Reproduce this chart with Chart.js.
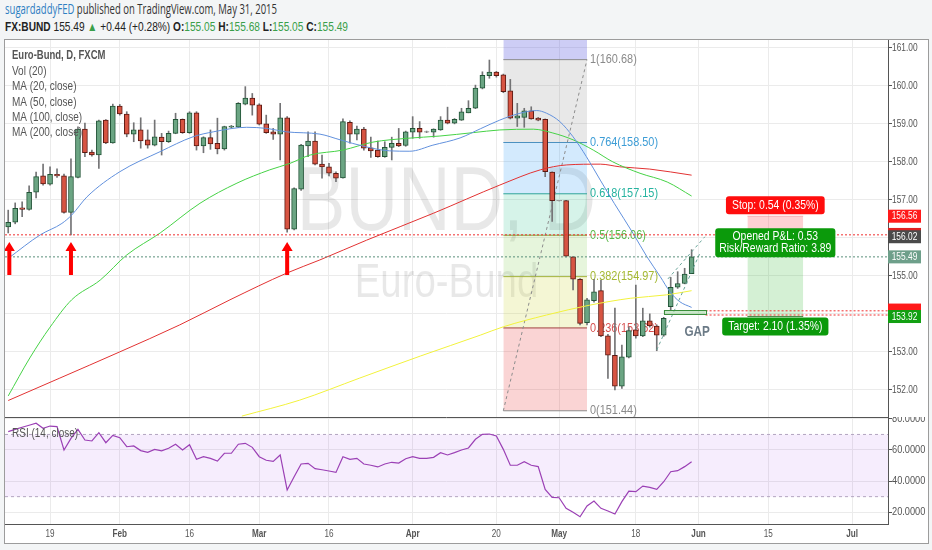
<!DOCTYPE html>
<html>
<head>
<meta charset="utf-8">
<title>Euro-Bund, D, FXCM</title>
<script src="https://cdn.jsdelivr.net/npm/chart.js@4.4.1/dist/chart.umd.min.js"></script>
<style>
  html, body { margin: 0; padding: 0; }
  body { width: 932px; height: 550px; position: relative; overflow: hidden; background: #f3f5f6; font-family: "Liberation Sans", Arial, sans-serif; }
  .hdr { position: absolute; left: 5px; white-space: nowrap; transform-origin: 0 0; }
  #hdr1 { top: 2px; font: 14px/14px "Open Sans", sans-serif; color: #333; }
  #hdr1 .user { color: #2e7fc2; }
  #hdr2 { top: 21px; font: 12.5px/12.5px "Liberation Sans", Arial, sans-serif; color: #222; }
  #hdr2 .g { color: #3a9f4a; }
  #panel { position: absolute; left: 4px; top: 39px; width: 923px; height: 503px; background: #fff; border: 1px solid #9c9c9c; }
  canvas { position: absolute; left: 5px; }
  #main { top: 40px; }
  #rsi { top: 417px; }
</style>
</head>
<body>
<div class="hdr" id="hdr1"><span class="user">sugardaddyFED</span> published on TradingView.com, May 31, 2015</div>
<div class="hdr" id="hdr2"><b>FX:BUND</b> 155.49 <span class="g">&#9650;</span> +0.44 (+0.28%) <b>O:</b><span class="g">155.05</span> <b>H:</b><span class="g">155.68</span> <b>L:</b><span class="g">155.05</span> <b>C:</b><span class="g">155.49</span></div>
<div id="panel"></div>
<canvas id="main" width="923" height="377"></canvas>
<canvas id="rsi" width="923" height="126"></canvas>
<script>
// ---- data (bar index 0 = Jan 9, 2015) ----
const X_TICKS = [6, 16, 26, 36, 46, 58, 70, 79, 90, 99, 109, 121];
const X_LABELS = ['19', 'Feb', '16', 'Mar', '16', 'Apr', '20', 'May', '18', 'Jun', '15', 'Jul'];
const PRICE_TICKS = [152, 153, 154, 155, 156, 157, 158, 159, 160, 161];
const RSI_TICKS = [20, 40, 60, 80];

const OPEN = [156.28,156.40,156.78,156.74,157.19,157.62,157.40,157.66,157.62,156.66,
  157.58,158.85,158.25,158.17,159.09,158.49,159.46,159.25,158.72,158.83,
  158.57,158.43,158.64,158.52,158.74,159.11,158.76,159.28,158.41,158.63,
  158.48,158.33,158.90,158.90,159.51,159.67,159.49,158.99,158.78,158.72,
  159.15,156.22,157.27,158.41,158.54,157.93,157.86,157.69,157.57,159.03,
  158.72,158.85,158.36,158.30,158.13,158.37,158.48,158.42,158.77,158.87,
  158.78,158.77,158.83,159.09,159.01,159.09,159.28,159.40,159.93,160.26,
  160.35,160.28,159.86,159.14,159.16,159.33,159.14,159.11,157.72,156.97,
  156.97,155.49,154.90,153.76,154.34,154.60,153.41,152.90,152.09,152.85,
  153.57,153.41,153.81,153.67,153.43,154.18,154.69,154.79,155.05];
const HIGH = [156.72,156.91,156.94,157.36,157.72,157.93,157.86,157.81,157.67,158.07,
  158.91,159.01,158.30,159.09,159.10,159.51,159.50,159.31,159.02,159.15,
  158.83,159.09,158.74,158.80,159.27,159.12,159.31,159.31,158.65,158.83,
  159.14,158.93,158.95,159.55,159.97,159.79,159.52,159.22,158.87,159.53,
  159.18,157.31,158.45,158.78,158.78,158.17,157.95,157.73,159.12,159.07,
  158.93,158.90,158.64,158.54,158.52,158.64,158.87,158.80,159.18,159.05,
  158.80,158.86,159.18,159.43,159.13,159.40,159.60,160.01,160.36,160.67,
  160.37,160.30,160.16,159.53,159.40,159.44,159.16,159.12,157.73,156.98,
  156.98,155.50,154.92,154.40,154.90,154.88,153.45,154.14,153.17,153.65,
  154.75,154.14,153.99,153.70,153.90,154.95,155.10,155.19,155.68];
const LOW = [156.12,156.36,156.55,156.72,157.04,157.38,157.38,157.58,156.64,156.07,
  157.57,158.13,158.14,157.82,158.47,158.48,159.22,158.65,158.52,158.35,
  158.35,158.41,158.17,158.50,158.73,158.74,158.74,158.30,158.23,158.32,
  158.20,158.30,158.88,158.89,159.49,159.22,158.96,158.74,158.58,158.04,
  156.14,156.20,157.24,158.13,157.91,157.56,157.62,157.47,157.56,158.48,
  158.57,158.30,158.11,158.11,158.11,158.04,158.39,158.40,158.61,158.61,
  158.76,158.64,158.82,158.99,158.99,159.08,159.28,159.39,159.91,160.19,
  160.22,159.81,159.12,158.92,158.90,159.11,159.07,157.60,156.42,156.96,
  155.49,154.62,153.70,153.70,154.30,153.39,152.29,151.99,152.03,152.83,
  153.35,153.39,153.64,153.02,153.40,154.09,154.66,154.78,155.05];
const CLOSE = [156.40,156.77,156.74,157.19,157.60,157.41,157.66,157.62,156.66,157.60,
  158.85,158.23,158.17,159.07,158.49,159.46,159.25,158.72,158.83,158.54,
  158.43,158.65,158.52,158.74,159.11,158.76,159.28,158.41,158.63,158.46,
  158.33,158.92,158.93,159.53,159.67,159.48,158.98,158.76,158.72,159.15,
  156.22,157.29,158.43,158.54,157.93,157.86,157.69,157.56,159.05,158.72,
  158.85,158.35,158.28,158.13,158.37,158.48,158.41,158.78,158.87,158.77,
  158.79,158.85,159.09,159.01,159.11,159.31,159.40,159.93,160.27,160.35,
  160.26,159.84,159.14,159.20,159.33,159.12,159.09,157.73,156.97,156.97,
  155.51,154.90,153.74,154.36,154.57,153.41,152.90,152.09,152.86,153.55,
  153.41,153.81,153.67,153.43,153.87,154.69,154.79,155.04,155.49];

const RSI = [71.8,73.3,74.6,75.9,77.2,74.0,75.4,75.0,60.0,67.5,
  73.3,66.4,65.8,71.1,64.7,69.4,67.9,62.1,62.6,59.6,
  58.5,60.4,59.4,61.1,63.7,60.0,63.4,54.0,55.7,54.6,
  52.9,57.9,57.9,63.7,64.3,61.7,55.7,53.4,52.7,56.8,
  34.3,42.8,51.0,51.4,48.0,47.3,46.5,45.6,55.7,54.0,
  54.6,51.0,50.2,49.1,51.0,52.1,51.6,54.4,55.7,54.6,
  54.6,55.3,58.3,56.8,58.3,60.0,61.3,66.9,70.1,70.3,
  69.0,60.4,50.2,50.2,52.5,50.2,49.3,34.7,29.5,29.3,
  22.5,19.9,17.1,24.0,27.2,22.5,20.8,18.8,26.8,33.6,
  33.2,36.8,36.0,34.7,39.6,46.0,46.7,49.3,52.5];
const RSI_UPPER = 70, RSI_LOWER = 30;

// moving averages, read at selected bars
const MA20_X = [0,4.6,7.7,9.1,11.3,16,21.8,26.5,29.4,34.2,37.1,39.9,44.7,47.6,51.2,54.7,57.6,60.9,64.8,67.7,70.5,73.4,75.8,77.2,79.1,81,82.9,84.9,86.9,89.6,91.6,93.5,94.9,96.3,98];
const MA20_Y = [155.45,156.07,156.37,156.59,157.07,157.73,158.26,158.65,158.78,158.90,158.87,158.78,158.72,158.57,158.39,158.28,158.27,158.43,158.62,158.86,159.09,159.27,159.34,159.27,159.05,158.65,158.13,157.51,156.90,156.11,155.49,154.97,154.57,154.31,154.16];
const MA50_X = [0,3.1,6,9.1,13.2,17,21.8,27.5,32.8,37.5,40.4,43.3,48,52.3,57.2,61.9,66.7,70.5,75.3,78.1,81,83.9,86.7,90.6,94.5,98];
const MA50_Y = [151.83,152.83,153.64,154.36,154.88,155.54,156.12,156.90,157.43,157.78,157.95,158.17,158.30,158.51,158.61,158.67,158.76,158.83,158.85,158.75,158.57,158.30,157.99,157.69,157.46,157.09];
const MA100_X = [0,7.4,16,24.6,31.8,39.9,44.7,51.4,61,70.5,76.3,80.1,84.9,87.7,92,98];
const MA100_Y = [151.71,152.30,152.99,153.70,154.36,155.06,155.41,155.93,156.64,157.38,157.78,157.91,157.93,157.86,157.80,157.64];
const MA200_X = [33.5,41.8,50.4,59.1,67.7,71,77.2,83.4,89.2,94.4,98];
const MA200_Y = [151.30,151.72,152.30,152.88,153.43,153.65,153.96,154.22,154.40,154.49,154.60];

// drawings
const FIB_RATIOS = ['1', '0.764', '0.618', '0.5', '0.382', '0.236', '0'];
const FIB_PRICES = [160.68, 158.50, 157.15, 156.06, 154.97, 153.62, 151.44];
const FIB_FROM = 71, FIB_TO = 83;
const POS_FROM = 106, POS_TO = 114;
const POS_ENTRY = 156.02, POS_STOP = 156.56, POS_TARGET = 153.92;
const ARROW_X = [0.16, 9, 40];
const ARROW_TOP = 155.88, ARROW_BOTTOM = 155.01;
const HLINE_RED = 156.07, HLINE_LAST = 155.49;
const GAP_FROM = 94, GAP_TO = 100, GAP_LOW = 153.98, GAP_HIGH = 154.09;
const GAP_LINES = [154.07, 153.96];
const GAP_TEXT_X = 98.8, GAP_TEXT_Y = 153.51;
const CHANNEL_A_X = [93.0, 99.2], CHANNEL_A_Y = [153.04, 155.59];
const CHANNEL_B_X = [94.6, 99.9], CHANNEL_B_Y = [154.91, 156.02];
const AXIS_MARKS = [156.08, 156.02, 154.09, 153.92, 156.56, 155.49];

// ---- styles ----
const X_MIN = -0.46, X_MAX = 126.16;
const FONT = '"Liberation Sans", Arial, sans-serif';
const FIB_LINE = ['#8c8c8c', '#4a90c0', '#2fa59a', '#7fa83a', '#a4b43c', '#a04040', '#8c8c8c'];
const FIB_TEXT = ['#8a8a8a', '#3d9dd6', '#26b3a0', '#5cb84a', '#a4b832', '#d65050', '#8a8a8a'];
const FIB_BAND = ['rgba(100,100,225,0.32)', 'rgba(128,128,128,0.18)', 'rgba(33,150,243,0.2)',
  'rgba(0,180,120,0.16)', 'rgba(100,190,40,0.16)', 'rgba(200,210,40,0.2)', 'rgba(230,60,60,0.22)'];
const MARK_COLORS = ['#e02020', '#4a4a4a', '#ff1a1a', '#12a012', '#ff1a1a', '#6e9f8a'];
const MARK_SHOW_TEXT = [false, true, false, true, true, true];

Chart.defaults.font.family = FONT;

function sText(ctx, str, x, y, font, color, align, sx, baseline) {
  ctx.save();
  ctx.font = font;
  ctx.fillStyle = color;
  ctx.textBaseline = baseline || 'middle';
  ctx.textAlign = 'left';
  const w = ctx.measureText(str).width * sx;
  const x0 = align === 'center' ? x - w / 2 : align === 'right' ? x - w : x;
  ctx.translate(x0, y);
  ctx.scale(sx, 1);
  ctx.fillText(str, 0, 0);
  ctx.restore();
  return w;
}

function textWidth(ctx, str, font, sx) {
  ctx.save(); ctx.font = font;
  const w = ctx.measureText(str).width * sx;
  ctx.restore();
  return w;
}

function roundBox(ctx, x, y, w, h, r, color) {
  ctx.fillStyle = color;
  ctx.beginPath();
  ctx.moveTo(x + r, y);
  ctx.arcTo(x + w, y, x + w, y + h, r);
  ctx.arcTo(x + w, y + h, x, y + h, r);
  ctx.arcTo(x, y + h, x, y, r);
  ctx.arcTo(x, y, x + w, y, r);
  ctx.closePath();
  ctx.fill();
}

const pts = (xs, ys) => xs.map((v, i) => ({ x: v, y: ys[i] }));
const seg = (x0, x1, v) => [{ x: x0, y: v }, { x: x1, y: v }];

function xScale(h) {
  return {
    type: 'linear', min: X_MIN, max: X_MAX, offset: false,
    afterBuildTicks: s => { s.ticks = X_TICKS.map(v => ({ value: v })); },
    ticks: { display: false },
    grid: { color: '#ebebeb', drawTicks: false, offset: false },
    border: h ? { color: '#555', width: 1 } : { display: false },
    afterFit: s => { s.height = h; s.paddingLeft = 0; s.paddingRight = 0; }
  };
}

function yScale(min, max, ticks) {
  return {
    type: 'linear', position: 'right', min, max,
    afterBuildTicks: s => { s.ticks = ticks.map(v => ({ value: v })); },
    ticks: { display: false },
    grid: { color: '#ebebeb', tickLength: 4, tickColor: '#555' },
    border: { color: '#555', width: 1 },
    afterFit: s => { s.width = 40; s.paddingTop = 0; s.paddingBottom = 0; }
  };
}

// ---- main price panel ----
const isDoji = i => Math.abs(CLOSE[i] - OPEN[i]) < 0.015;
const bodies = OPEN.map((o, i) => ({ x: i, y: isDoji(i) ? [o - 0.008, o + 0.008] : [o, CLOSE[i]] }));
const wicks = LOW.map((l, i) => ({ x: i, y: [l, HIGH[i]] }));
const bodyFill = OPEN.map((o, i) => isDoji(i) ? '#a0a0a0' : CLOSE[i] > o ? '#6ba583' : '#d75442');
const bodyLine = OPEN.map((o, i) => isDoji(i) ? '#8c8c8c' : CLOSE[i] > o ? '#225437' : '#5b1a13');

const lineBase = { type: 'line', pointRadius: 0, borderWidth: 1, fill: false };
const mainDatasets = [];
FIB_PRICES.forEach((p, k) => mainDatasets.push(Object.assign({}, lineBase, {
  data: seg(FIB_FROM, FIB_TO, p), borderColor: FIB_LINE[k],
  fill: k === 0 ? 'end' : '-1', backgroundColor: FIB_BAND[k], order: 9
})));
mainDatasets.push(Object.assign({}, lineBase, { data: seg(POS_FROM, POS_TO, POS_ENTRY), borderColor: 'rgba(0,0,0,0)', borderWidth: 0, order: 9 }));
mainDatasets.push(Object.assign({}, lineBase, { data: seg(POS_FROM, POS_TO, POS_STOP), borderColor: 'rgba(230,80,90,0.35)', fill: '-1', backgroundColor: 'rgba(250,90,100,0.28)', order: 9 }));
mainDatasets.push(Object.assign({}, lineBase, { data: seg(POS_FROM, POS_TO, POS_TARGET), borderColor: '#4a8a4a', fill: '-2', backgroundColor: 'rgba(40,180,40,0.2)', order: 9 }));
mainDatasets.push(Object.assign({}, lineBase, { data: pts([FIB_FROM, FIB_TO], [FIB_PRICES[6], FIB_PRICES[0]]), borderColor: '#8c8c8c', borderDash: [3, 3], order: 8 }));
mainDatasets.push({ type: 'bar', data: wicks, backgroundColor: '#737375', barThickness: 1, grouped: false, order: 3 });
mainDatasets.push({ type: 'bar', data: bodies, backgroundColor: bodyFill, borderColor: bodyLine, borderWidth: 1, borderSkipped: false, barThickness: 5, grouped: false, order: 2 });
[[MA20_X, MA20_Y, '#6291dd'], [MA50_X, MA50_Y, '#46d246'], [MA100_X, MA100_Y, '#e23232'], [MA200_X, MA200_Y, '#f2f23c']].forEach(([xs, ys, c]) =>
  mainDatasets.push(Object.assign({}, lineBase, { data: pts(xs, ys), borderColor: c, cubicInterpolationMode: 'monotone', order: 1 })));
mainDatasets.push(Object.assign({}, lineBase, { data: seg(X_MIN, X_MAX, HLINE_RED), borderColor: '#f03030', borderDash: [2, 2], order: 0 }));
mainDatasets.push(Object.assign({}, lineBase, { data: seg(X_MIN, X_MAX, HLINE_LAST), borderColor: '#5a8f7b', borderDash: [2, 2], order: 0 }));
GAP_LINES.forEach(v => mainDatasets.push(Object.assign({}, lineBase, { data: seg(GAP_TO, X_MAX, v), borderColor: '#f03030', borderDash: [2, 2], order: 0 })));
mainDatasets.push(Object.assign({}, lineBase, { data: pts(CHANNEL_A_X, CHANNEL_A_Y), borderColor: '#6aa59a', borderDash: [3, 3], order: 0 }));
mainDatasets.push(Object.assign({}, lineBase, { data: pts(CHANNEL_B_X, CHANNEL_B_Y), borderColor: '#6aa59a', borderDash: [3, 3], order: 0 }));

const mainDecor = {
  id: 'mainDecor',
  beforeDatasetsDraw(chart) {
    const { ctx, chartArea: a, scales: { x, y } } = chart;
    ctx.save();
    ctx.beginPath(); ctx.rect(a.left, a.top, a.right - a.left, a.bottom - a.top); ctx.clip();
    const cx = (a.left + a.right) / 2;
    sText(ctx, 'BUND, D', cx, a.top + 190, '91px ' + FONT, 'rgba(0,0,0,0.09)', 'center', 0.8, 'alphabetic');
    sText(ctx, 'Euro-Bund', cx, a.top + 257, '48px ' + FONT, 'rgba(0,0,0,0.09)', 'center', 0.8, 'alphabetic');
    FIB_PRICES.forEach((p, k) => sText(ctx, FIB_RATIOS[k] + '(' + p.toFixed(2) + ')',
      x.getPixelForValue(FIB_TO) + 3, y.getPixelForValue(p), '13px ' + FONT, FIB_TEXT[k], 'left', 0.84));
    ctx.restore();
  },
  afterDatasetsDraw(chart) {
    const { ctx, chartArea: a, scales: { x, y } } = chart;
    ctx.save();
    ctx.beginPath(); ctx.rect(a.left, a.top, a.right - a.left, a.bottom - a.top); ctx.clip();
    // red arrows
    ctx.fillStyle = '#ff0000';
    ARROW_X.forEach(v => {
      const px = x.getPixelForValue(v), t = y.getPixelForValue(ARROW_TOP), b = y.getPixelForValue(ARROW_BOTTOM);
      ctx.beginPath();
      ctx.moveTo(px, t); ctx.lineTo(px + 5.5, t + 9); ctx.lineTo(px + 2, t + 9); ctx.lineTo(px + 2, b);
      ctx.lineTo(px - 2, b); ctx.lineTo(px - 2, t + 9); ctx.lineTo(px - 5.5, t + 9); ctx.closePath();
      ctx.fill();
    });
    // gap box
    const gx0 = x.getPixelForValue(GAP_FROM), gx1 = x.getPixelForValue(GAP_TO);
    const gy0 = y.getPixelForValue(GAP_HIGH), gy1 = y.getPixelForValue(GAP_LOW);
    ctx.fillStyle = 'rgba(80,180,80,0.3)';
    ctx.fillRect(gx0, gy0, gx1 - gx0, gy1 - gy0);
    ctx.strokeStyle = '#3b8f3b'; ctx.lineWidth = 1;
    ctx.strokeRect(Math.round(gx0) + 0.5, Math.round(gy0) + 0.5, Math.round(gx1 - gx0), Math.round(gy1 - gy0));
    sText(ctx, 'GAP', x.getPixelForValue(GAP_TEXT_X), y.getPixelForValue(GAP_TEXT_Y), 'bold 14px ' + FONT, '#6b7a86', 'center', 0.84);
    // position labels
    const f = '13px ' + FONT;
    const mx = x.getPixelForValue((POS_FROM + POS_TO) / 2);
    const sw = textWidth(ctx, 'Stop: 0.54 (0.35%)', f, 0.8) + 12;
    const sb = y.getPixelForValue(POS_STOP) - 2;
    roundBox(ctx, mx - sw / 2, sb - 18, sw, 18, 3, '#ff0d0d');
    sText(ctx, 'Stop: 0.54 (0.35%)', mx, sb - 9, f, '#fff', 'center', 0.8);
    const pw = textWidth(ctx, 'Risk/Reward Ratio: 3.89', f, 0.8) + 8;
    const pc = y.getPixelForValue(POS_ENTRY) + 6;
    roundBox(ctx, mx - pw / 2, pc - 14.5, pw, 29, 3, '#0b9a0b');
    sText(ctx, 'Opened P&L: 0.53', mx, pc - 6, f, '#fff', 'center', 0.8);
    sText(ctx, 'Risk/Reward Ratio: 3.89', mx, pc + 6, f, '#fff', 'center', 0.8);
    const tw = textWidth(ctx, 'Target: 2.10 (1.35%)', f, 0.8) + 12;
    const tt = y.getPixelForValue(POS_TARGET) + 1;
    roundBox(ctx, mx - tw / 2, tt, tw, 18, 3, '#0b9a0b');
    sText(ctx, 'Target: 2.10 (1.35%)', mx, tt + 9, f, '#fff', 'center', 0.8);
    ctx.restore();
  },
  afterDraw(chart) {
    const { ctx, chartArea: a, scales: { y } } = chart;
    // legend
    const lf = '12.5px ' + FONT;
    sText(ctx, 'Euro-Bund, D, FXCM', a.left + 7, a.top + 16, 'bold ' + lf, '#555', 'left', 0.76);
    ['Vol (20)', 'MA (20, close)', 'MA (50, close)', 'MA (100, close)', 'MA (200, close)'].forEach((t, i) =>
      sText(ctx, t, a.left + 7, a.top + 31.5 + i * 15.3, lf, '#555', 'left', 0.8));
    // price scale labels
    PRICE_TICKS.forEach(v => sText(ctx, v.toFixed(2), y.left + 4, y.getPixelForValue(v), '11px ' + FONT, '#555', 'left', 0.76));
    AXIS_MARKS.forEach((v, i) => {
      const py = y.getPixelForValue(v);
      ctx.fillStyle = MARK_COLORS[i];
      ctx.fillRect(y.left, py - 6.5, 33, 13);
      if (MARK_SHOW_TEXT[i]) sText(ctx, v.toFixed(2), y.left + 16.5, py, '11px ' + FONT, '#fff', 'center', 0.76);
    });
  }
};

new Chart(document.getElementById('main'), {
  type: 'line',
  data: { datasets: mainDatasets },
  options: {
    responsive: false, animation: false, events: [],
    layout: { padding: 0, autoPadding: false },
    plugins: { legend: { display: false }, tooltip: { enabled: false } },
    scales: { x: xScale(0), y: yScale(151.276, 161.197, PRICE_TICKS) }
  },
  plugins: [mainDecor]
});

// ---- RSI panel ----
const rsiDecor = {
  id: 'rsiDecor',
  afterDraw(chart) {
    const { ctx, chartArea: a, scales: { x, y } } = chart;
    ctx.save();
    ctx.strokeStyle = '#555'; ctx.lineWidth = 1;
    ctx.beginPath(); ctx.moveTo(a.left, a.top + 0.5); ctx.lineTo(a.right, a.top + 0.5); ctx.stroke();
    ctx.restore();
    sText(ctx, 'RSI (14, close)', a.left + 7, a.top + 17, '12.5px ' + FONT, '#555', 'left', 0.8);
    RSI_TICKS.forEach(v => sText(ctx, v.toFixed(4), y.left + 4, y.getPixelForValue(v), '11px ' + FONT, '#555', 'left', 0.84));
    X_TICKS.forEach((v, i) => {
      const lab = X_LABELS[i];
      const bold = isNaN(Number(lab));
      sText(ctx, lab, x.getPixelForValue(v), a.bottom + 9.5, (bold ? 'bold ' : '') + '11px ' + FONT, '#555', 'center', 0.74);
    });
  }
};

new Chart(document.getElementById('rsi'), {
  type: 'line',
  data: {
    datasets: [
      Object.assign({}, lineBase, { data: seg(X_MIN, X_MAX, RSI_UPPER), borderColor: '#b3a5c0', borderDash: [3, 3], order: 2 }),
      Object.assign({}, lineBase, { data: seg(X_MIN, X_MAX, RSI_LOWER), borderColor: '#b3a5c0', borderDash: [3, 3], fill: '-1', backgroundColor: 'rgba(155,60,230,0.09)', order: 2 }),
      Object.assign({}, lineBase, { data: RSI.map((v, i) => ({ x: i, y: v })), borderColor: '#9b40b5', borderWidth: 1.2, order: 0 })
    ]
  },
  options: {
    responsive: false, animation: false, events: [],
    layout: { padding: 0, autoPadding: false },
    plugins: { legend: { display: false }, tooltip: { enabled: false } },
    scales: { x: xScale(19), y: yScale(12.41, 81.22, RSI_TICKS) }
  },
  plugins: [rsiDecor]
});

// header lines are squeezed to the widths seen in the screenshot
function fitHeader(id, w) {
  const el = document.getElementById(id);
  el.style.transform = 'scaleX(' + (w / el.getBoundingClientRect().width) + ')';
}
fitHeader('hdr1', 272);
fitHeader('hdr2', 343);
</script>
</body>
</html>
